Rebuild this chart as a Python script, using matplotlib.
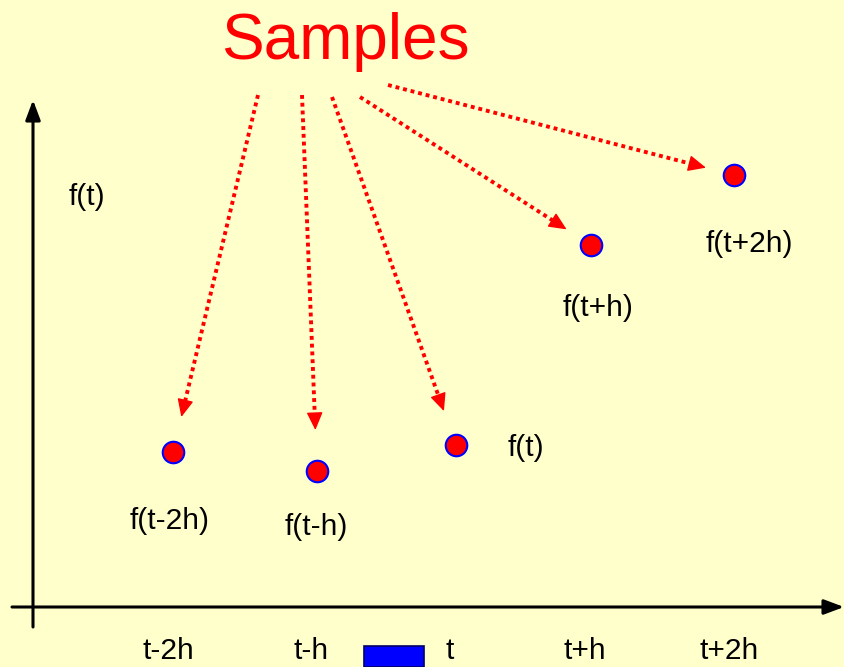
import math
import matplotlib
matplotlib.use("Agg")
import matplotlib.pyplot as plt
from matplotlib.patches import Rectangle

# === DATA (origin at the axis crossing, y up) ===
sample_x = [140, 284, 423, 558, 701]
sample_y = [155, 136, 162, 362, 432]
value_labels = ["f(t-2h)", "f(t-h)", "f(t)", "f(t+h)", "f(t+2h)"]
value_label_x = [137, 283, 493, 565, 716]
value_label_y = [86, 80, 159, 299, 363]
tick_labels = ["t-2h", "t-h", "t", "t+h", "t+2h"]
tick_x = [135, 278, 417, 552, 696]
tick_y = -52  # baseline
# arrow sources under the "Samples" title
src_x = [225, 269, 299, 327, 355]
src_y = [512, 512, 510, 510, 522]
gap = [36, 41, 36, 29, 29]  # px left between arrow tip and dot

BG = "#FFFFCC"
FONT = "Liberation Sans"
LABEL_SIZE = 21.5

fig = plt.figure(figsize=(8.44, 6.67), dpi=100, facecolor=BG)
ax = fig.add_axes([0, 0, 1, 1])
ax.set_facecolor(BG)
ax.set_xlim(-33, 811)
ax.set_ylim(-60, 607)
ax.axis("off")

# coordinate axes with arrow heads
axis_head = "-|>,head_length=1.2,head_width=0.45"
ax.annotate("", xy=(811, 0), xytext=(-21, 0),
            arrowprops=dict(arrowstyle=axis_head, color="black", lw=2.2, shrinkA=0, shrinkB=0))
ax.annotate("", xy=(0, 507), xytext=(0, -20),
            arrowprops=dict(arrowstyle=axis_head, color="black", lw=2.2, shrinkA=0, shrinkB=0))

# dotted arrows from the title to each sample (line dotted, head solid)
for sx, sy, px, py, g in zip(src_x, src_y, sample_x, sample_y, gap):
    dx, dy = sx - px, sy - py
    d = math.hypot(dx, dy)
    ux, uy = dx / d, dy / d
    tx, ty = px + ux * g, py + uy * g
    ax.plot([sx, tx + ux * 10], [sy, ty + uy * 10], color="red", lw=2.8,
            linestyle=(0, (1, 1)), solid_capstyle="butt", dash_capstyle="butt")
    ax.annotate("", xy=(tx, ty), xytext=(tx + ux * 16, ty + uy * 16),
                arrowprops=dict(arrowstyle="-|>,head_length=1.1,head_width=0.5", color="red",
                                lw=1, shrinkA=0, shrinkB=0))

# sample dots
ax.plot(sample_x, sample_y, "o", ms=15.5, mfc="red", mec="blue", mew=1.5, zorder=5)

for lab, x, y in zip(value_labels, value_label_x, value_label_y):
    ax.text(x, y, lab, fontsize=LABEL_SIZE, family=FONT, ha="center", va="center")

for lab, x in zip(tick_labels, tick_x):
    ax.text(x, tick_y, lab, fontsize=LABEL_SIZE, family=FONT, ha="center", va="baseline")

ax.text(54, 410, "f(t)", fontsize=LABEL_SIZE, family=FONT, ha="center", va="center")
ax.text(312, 565, "Samples", fontsize=46, family=FONT, color="red", ha="center", va="center")

# small blue box next to the "t" tick
ax.add_patch(Rectangle((331, -60), 60, 21, facecolor="blue", edgecolor="#000066", lw=1.2, clip_on=False))

fig.savefig("out.png", dpi=100, facecolor=BG)
